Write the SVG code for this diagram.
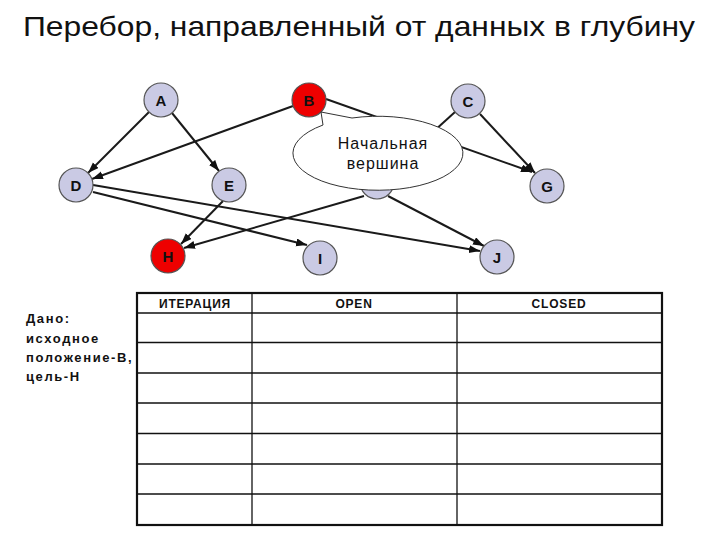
<svg xmlns="http://www.w3.org/2000/svg" width="720" height="540" viewBox="0 0 720 540">
<defs>
<marker id="arr" markerUnits="userSpaceOnUse" markerWidth="12" markerHeight="10" refX="11" refY="4" orient="auto">
<path d="M0,0 L11,4 L0,8 Z" fill="#111"/>
</marker>
<style>
.edge{stroke:#1a1a1a;stroke-width:2;fill:none;marker-end:url(#arr)}
.node{fill:#cacae4;stroke:#555;stroke-width:1.2}
.red{fill:#ee0000;stroke:#555;stroke-width:1.2}
.lbl{font-family:"Liberation Sans",Arial,sans-serif;font-weight:bold;font-size:15px;fill:#111;text-anchor:middle}
.th{font-family:"Liberation Sans",Arial,sans-serif;font-weight:bold;font-size:12px;fill:#111;text-anchor:middle;letter-spacing:0.8px}
.grid{stroke:#111;stroke-width:1.3}
.given{font-family:"Liberation Sans",Arial,sans-serif;font-weight:bold;font-size:13px;fill:#111;letter-spacing:1.6px}
</style>
</defs>
<rect width="720" height="540" fill="#fff"/>
<text x="23" y="36" font-family="Liberation Sans, Arial, sans-serif" font-size="28" fill="#111" textLength="672" lengthAdjust="spacingAndGlyphs">Перебор, направленный от данных в глубину</text>

<g id="connectors">
<line class="edge" x1="149" y1="112" x2="88" y2="173"/>
<line class="edge" x1="172" y1="113" x2="219" y2="171"/>
<line class="edge" x1="293" y1="106" x2="92" y2="179"/>
<line class="edge" x1="326" y1="99" x2="532" y2="172"/>
<line class="edge" x1="455" y1="112" x2="390" y2="171"/>
<line class="edge" x1="480" y1="114" x2="535" y2="173"/>
<line class="edge" x1="93" y1="192" x2="307" y2="245"/>
<line class="edge" x1="93" y1="185" x2="480" y2="251"/>
<line class="edge" x1="223" y1="201" x2="181" y2="244"/>
<line class="edge" x1="364" y1="196" x2="184" y2="248"/>
<line class="edge" x1="388" y1="196" x2="484" y2="246"/>
</g>

<g id="A"><circle class="node" cx="161" cy="100" r="17"/><text class="lbl" x="161" y="105.5">A</text></g>
<g id="B"><circle class="red" cx="309" cy="100" r="17"/><text class="lbl" x="309" y="105.5">B</text></g>
<g id="C"><circle class="node" cx="468" cy="101" r="17"/><text class="lbl" x="468" y="106.5">C</text></g>
<g id="D"><circle class="node" cx="76" cy="185" r="17"/><text class="lbl" x="76" y="190.5">D</text></g>
<g id="E"><circle class="node" cx="229" cy="185" r="17"/><text class="lbl" x="229" y="190.5">E</text></g>
<g id="F"><circle class="node" cx="377" cy="182" r="17"/><text class="lbl" x="377" y="187.5">F</text></g>
<g id="G"><circle class="node" cx="547" cy="186" r="17"/><text class="lbl" x="547" y="191.5">G</text></g>
<g id="H"><circle class="red" cx="168" cy="256" r="17"/><text class="lbl" x="168" y="261.5">H</text></g>
<g id="I"><circle class="node" cx="320" cy="258" r="17"/><text class="lbl" x="320" y="263.5">I</text></g>
<g id="J"><circle class="node" cx="497" cy="257" r="17"/><text class="lbl" x="497" y="262.5">J</text></g>

<g id="callout">
<path d="M323,125 L321,112 L352,118 A85 37 0 1 1 323,125 Z" fill="#fff" stroke="#333" stroke-width="1"/>
<text x="383" y="149" font-family="Liberation Sans, Arial, sans-serif" font-size="16" fill="#111" text-anchor="middle" letter-spacing="1">Начальная</text>
<text x="383" y="169" font-family="Liberation Sans, Arial, sans-serif" font-size="16" fill="#111" text-anchor="middle" letter-spacing="1">вершина</text>
</g>

<g id="given">
<text class="given" x="26" y="323">Дано:</text>
<text class="given" x="26" y="343">исходное</text>
<text class="given" x="26" y="362">положение-В,</text>
<text class="given" x="26" y="381">цель-Н</text>
</g>

<g id="table">
<rect x="137" y="293" width="525" height="232" fill="none" stroke="#111" stroke-width="2.2"/>
<line class="grid" x1="252" y1="293" x2="252" y2="525"/>
<line class="grid" x1="457" y1="293" x2="457" y2="525"/>
<line class="grid" x1="137" y1="313" x2="662" y2="313"/>
<line class="grid" x1="137" y1="342.5" x2="662" y2="342.5"/>
<line class="grid" x1="137" y1="373" x2="662" y2="373"/>
<line class="grid" x1="137" y1="403" x2="662" y2="403"/>
<line class="grid" x1="137" y1="433.5" x2="662" y2="433.5"/>
<line class="grid" x1="137" y1="464" x2="662" y2="464"/>
<line class="grid" x1="137" y1="494" x2="662" y2="494"/>
<text class="th" x="195" y="308">ИТЕРАЦИЯ</text>
<text class="th" x="354" y="308">OPEN</text>
<text class="th" x="559" y="308">CLOSED</text>
</g>
</svg>
